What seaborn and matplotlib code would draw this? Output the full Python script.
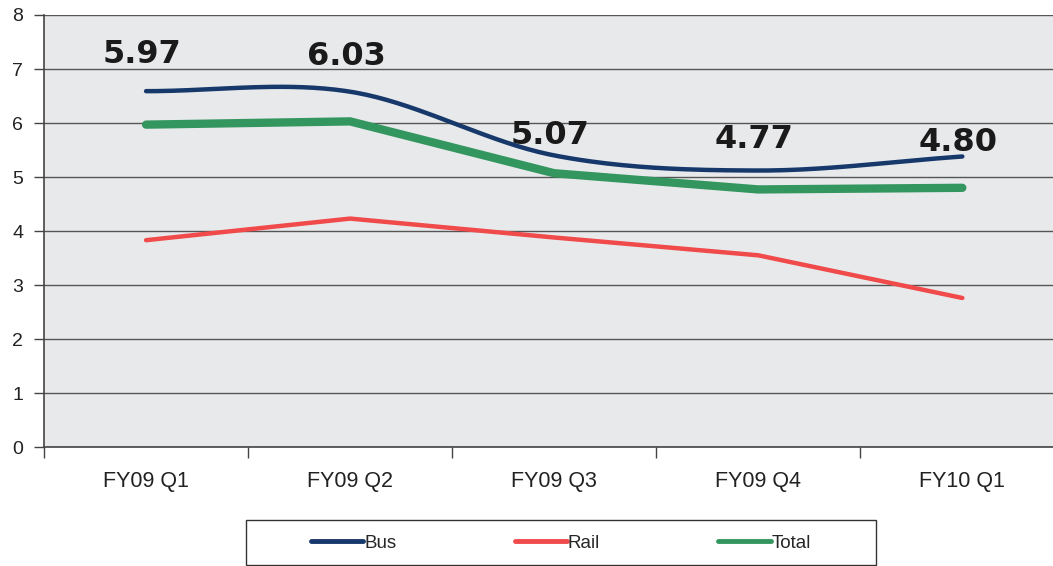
import numpy as np
import pandas as pd
import matplotlib
matplotlib.use("Agg")
import matplotlib.pyplot as plt
from matplotlib.patches import Rectangle
import seaborn as sns

quarters = ["FY09 Q1", "FY09 Q2", "FY09 Q3", "FY09 Q4", "FY10 Q1"]
bus = [6.59, 6.58, 5.40, 5.12, 5.38]
rail = [3.83, 4.23, 3.88, 3.55, 2.76]
total = [5.97, 6.03, 5.07, 4.77, 4.80]
total_labels = ["5.97", "6.03", "5.07", "4.77", "4.80"]
label_y = [7.27, 7.24, 5.77, 5.69, 5.63]

sns.set_theme(style="white")
plt.rcParams["font.family"] = ["Liberation Sans", "DejaVu Sans"]

fig = plt.figure(figsize=(10.53, 5.66), dpi=100)
ax = fig.add_axes([0.0418, 0.2102, 0.9690, 0.7633])
ax.set_facecolor("#e8e9eb")

x = np.arange(len(quarters))

# Catmull-Rom smoothing for the Bus line
def catmull(xs, ys, n=40):
    xs = np.asarray(xs, float); ys = np.asarray(ys, float)
    px = np.concatenate([[2*xs[0]-xs[1]], xs, [2*xs[-1]-xs[-2]]])
    py = np.concatenate([[2*ys[0]-ys[1]], ys, [2*ys[-1]-ys[-2]]])
    ox, oy = [], []
    for i in range(1, len(px)-2):
        t = np.linspace(0, 1, n)
        for arr, out in ((px, ox), (py, oy)):
            p0, p1, p2, p3 = arr[i-1], arr[i], arr[i+1], arr[i+2]
            out.extend(0.5*((2*p1) + (-p0+p2)*t + (2*p0-5*p1+4*p2-p3)*t**2 + (-p0+3*p1-3*p2+p3)*t**3))
    return np.array(ox), np.array(oy)

bx, by = catmull(x, bus)
df_bus = pd.DataFrame({"x": bx, "y": by})
df_rail = pd.DataFrame({"x": x, "y": rail})
df_total = pd.DataFrame({"x": x, "y": total})

sns.lineplot(data=df_bus, x="x", y="y", ax=ax, color="#17386b", lw=3.2,
             solid_capstyle="round", label="Bus", sort=False, zorder=4)
sns.lineplot(data=df_rail, x="x", y="y", ax=ax, color="#f04a4a", lw=3.2,
             solid_capstyle="round", label="Rail", zorder=3)
sns.lineplot(data=df_total, x="x", y="y", ax=ax, color="#33965f", lw=6,
             solid_capstyle="round", label="Total", zorder=3)

for xi, yi, t in zip(x, label_y, total_labels):
    ax.text(xi - 0.02, yi, t, ha="center", va="center", fontsize=23, fontweight="heavy",
            family="DejaVu Sans", color="#1a1a1a", zorder=5)

ax.set_xlim(-0.5, 4.5)
ax.set_ylim(0, 8)
ax.set_yticks(range(0, 9))
ax.yaxis.grid(True, color="#555555", lw=1)
ax.set_axisbelow(True)
ax.set_xticks(np.arange(-0.5, 4.6, 1.0))
ax.set_xticklabels([])
ax.set_xticks(x, minor=True)
ax.set_xticklabels(quarters, minor=True)
ax.tick_params(axis="x", which="major", direction="out", length=8, width=1, color="#444444", bottom=True)
ax.tick_params(axis="x", which="minor", length=0, pad=17, labelsize=15.5, labelcolor="#222222")
ax.tick_params(axis="y", direction="out", length=7, width=1, color="#444444", left=True,
               labelsize=14, labelcolor="#222222", pad=8)
ax.set_xlabel("")
ax.set_ylabel("")
for s in ["right", "top"]:
    ax.spines[s].set_visible(False)
for s in ["left", "bottom"]:
    ax.spines[s].set_color("#444444")
    ax.spines[s].set_linewidth(1.2)

handles, labels = ax.get_legend_handles_labels()
ax.get_legend().remove()
leg = fig.legend(handles, labels, loc="center",
                 bbox_to_anchor=(561/1053, 1 - 543/566), ncol=3,
                 frameon=False, handlelength=2.8,
                 prop={"family": ["Liberation Sans Narrow", "Liberation Sans"], "size": 13.5},
                 handletextpad=0.05, columnspacing=6.3, borderpad=0, borderaxespad=0)
for h in leg.get_lines():
    h.set_linewidth(3.5)
    h.set_solid_capstyle("round")
fig.patches.append(Rectangle((246/1053, 1/566), 630/1053, 45/566, transform=fig.transFigure,
                             facecolor="white", edgecolor="#333333", lw=1, zorder=0))

fig.savefig("out.png", dpi=100)
